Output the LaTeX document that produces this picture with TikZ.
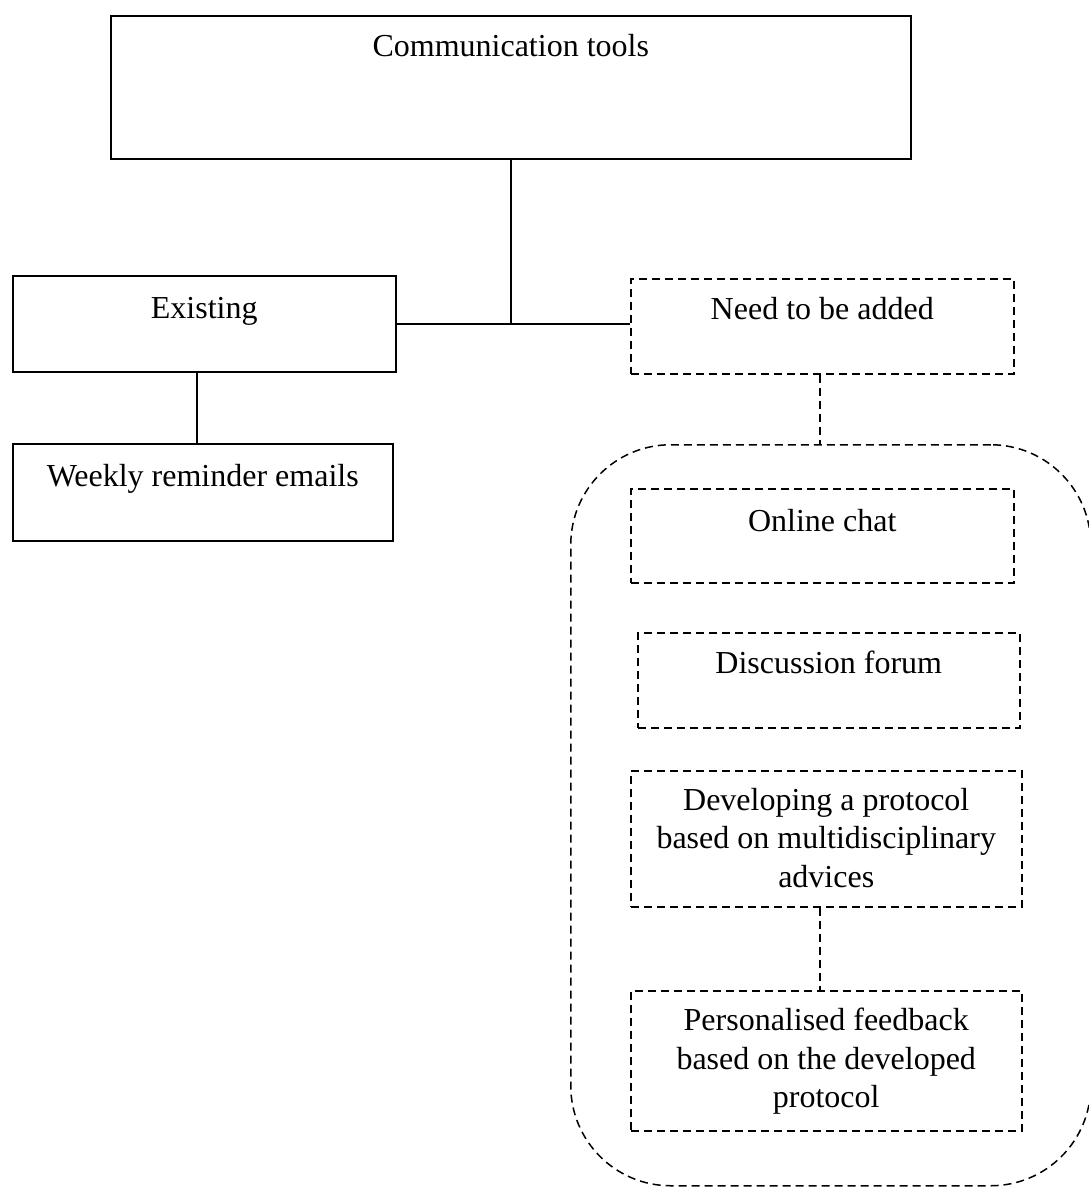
\documentclass[tikz,border=0pt]{standalone}
\usepackage{fontspec}
\setmainfont{Liberation Serif}
\usetikzlibrary{positioning}

\tikzset{
  box/.style={draw, line width=1.5pt, anchor=north west, inner sep=0pt},
  dbox/.style={box, dash pattern=on 8pt off 5pt},
  txt/.style={inner sep=0pt, align=center, font=\fontsize{32}{38.5}\selectfont},
  link/.style={line width=1.5pt},
  dlink/.style={link, dash pattern=on 8pt off 5pt}
}

\begin{document}
\begin{tikzpicture}[x=1pt, y=-1pt]
\useasboundingbox (0,0) rectangle (1088,1187);

% top level
\node[box, minimum width=800pt, minimum height=143pt] (comm) at (110,15) {};
\node[txt, below=19pt of comm.north] (commtext) {Communication tools};

% existing tools
\node[box, minimum width=383pt, minimum height=96pt] (exist) at (12,275) {};
\node[txt, below=22pt of exist.north] (existtext) {Existing};
\node[box, minimum width=380pt, minimum height=97pt] (week) at (12,443) {};
\node[txt, below=21pt of week.north] (weektext) {Weekly reminder emails};

% tools to be added
\node[dbox, minimum width=383pt, minimum height=95pt] (need) at (630,278) {};
\node[txt, below=19pt of need.north] (needtext) {Need to be added};
\node[dbox, minimum width=520pt, minimum height=741pt, rounded corners=100pt] (group) at (570,444) {};
\node[dbox, minimum width=383pt, minimum height=94pt] (chat) at (630,488) {};
\node[txt, below=21pt of chat.north] (chattext) {Online chat};
\node[dbox, minimum width=382pt, minimum height=95pt] (forum) at (637,632) {};
\node[txt, below=19pt of forum.north] (forumtext) {Discussion forum};
\node[dbox, minimum width=391pt, minimum height=136pt] (dev) at (630,770) {};
\node[txt, below=18pt of dev.north] (devtext) {Developing a protocol\\based on multidisciplinary\\advices};
\node[dbox, minimum width=391pt, minimum height=140pt] (pers) at (630,990) {};
\node[txt, below=18pt of pers.north] (perstext) {Personalised feedback\\based on the developed\\protocol};

% connectors
\draw[link] (comm.south) -- (comm.south |- exist.east);
\draw[link] (exist.east) -- (need.west |- exist.east);
\draw[link] ([xshift=-7.5pt]exist.south) -- ([xshift=-7.5pt]exist.south |- week.north);
\draw[dlink] ([xshift=-2.5pt]need.south) -- ([xshift=-2.5pt]need.south |- group.north);
\draw[dlink] ([xshift=-6.5pt]dev.south) -- ([xshift=-6.5pt]dev.south |- pers.north);
\end{tikzpicture}
\end{document}
